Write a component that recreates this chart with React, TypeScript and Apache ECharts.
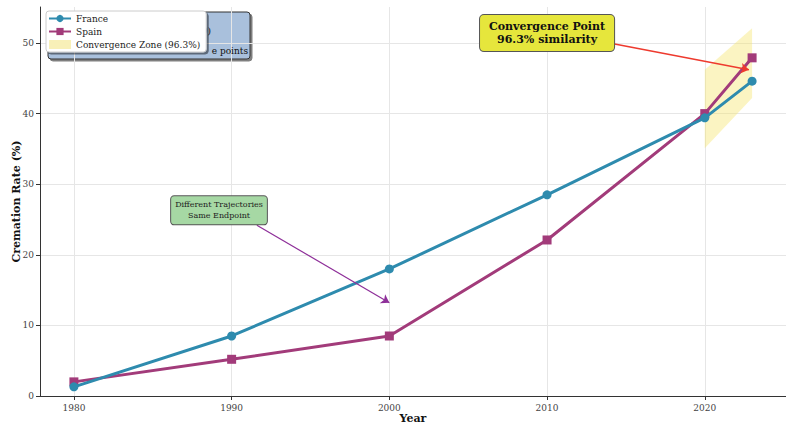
import React, { useEffect, useRef } from "react";
import * as echarts from "echarts";

const years = [1980, 1990, 2000, 2010, 2020, 2023];
const france = [1.3, 8.5, 18.0, 28.5, 39.4, 44.6];
const spain = [2.0, 5.2, 8.5, 22.1, 40.0, 47.9];
const zoneYears = [2020, 2023];
const zoneLower = [35.1, 42.2];
const zoneUpper = [46.2, 52.1];
const xTicks = [1980, 1990, 2000, 2010, 2020];
const yTicks = [0, 10, 20, 30, 40, 50];

const FONT = "'DejaVu Serif', serif";

export default function App() {
  const ref = useRef<HTMLDivElement>(null);
  useEffect(() => {
    document.body.style.margin = "0";
    if (!ref.current) return;
    const chart = echarts.init(ref.current, undefined, { renderer: "svg" });
    const zoneData = zoneYears.map((y, i) => [y, zoneLower[i], zoneUpper[i]]);
    chart.setOption({
      animation: false,
      textStyle: { fontFamily: FONT },
      grid: { left: 40, right: 0, top: 7, bottom: 31, containLabel: false, outerBoundsMode: "none" },
      legend: {
        orient: "vertical",
        left: 46,
        top: 11,
        padding: [3, 6, 3, 2],
        itemWidth: 22,
        itemHeight: 9,
        itemGap: 4,
        backgroundColor: "#ffffff",
        borderColor: "#cccccc",
        borderWidth: 1,
        borderRadius: 3,
        shadowColor: "rgba(0,0,0,0.45)",
        shadowOffsetX: 2,
        shadowOffsetY: 2,
        shadowBlur: 0,
        textStyle: { fontFamily: FONT, fontSize: 9, color: "#222" },
        data: [
          { name: "France" },
          { name: "Spain" },
          { name: "Convergence Zone (96.3%)", icon: "rect", itemStyle: { color: "#f8f0b8" } },
        ],
      },
      graphic: [
        {
          type: "rect",
          z: 0,
          shape: { x: 48, y: 12, width: 202, height: 47, r: 3 },
          style: { fill: "#a9c0dc", stroke: "#333", lineWidth: 1, shadowColor: "rgba(0,0,0,0.5)", shadowOffsetX: 2, shadowOffsetY: 2 },
        },
        {
          type: "text",
          z: 1,
          style: { x: 211, y: 31, text: "0)", align: "right", verticalAlign: "middle", font: "9px 'DejaVu Serif'", fill: "#111" },
        },
        {
          type: "text",
          z: 1,
          style: { x: 248, y: 51, text: "e points", align: "right", verticalAlign: "middle", font: "9px 'DejaVu Serif'", fill: "#111" },
        },
      ],
      xAxis: {
        type: "value",
        min: 1977.85,
        max: 2025.15,
        axisLine: { show: true, onZero: false, lineStyle: { color: "#333", width: 1 } },
        axisTick: { show: true, length: 4, customValues: xTicks, lineStyle: { color: "#333" } },
        axisLabel: { customValues: xTicks, formatter: (v: number) => String(v), fontSize: 9, color: "#444", fontFamily: FONT, margin: 7 },
        splitLine: { show: true, lineStyle: { color: "#e6e6e6", width: 1 } },
        name: "Year",
        nameLocation: "middle",
        nameGap: 17,
        nameMoveOverlap: false,
        nameTextStyle: { fontFamily: FONT, fontWeight: "bold", fontSize: 11, color: "#111" },
      },
      yAxis: {
        type: "value",
        min: 0,
        max: 55.1,
        axisLine: { show: true, lineStyle: { color: "#333", width: 1 } },
        axisTick: { show: true, length: 4, customValues: yTicks, lineStyle: { color: "#333" } },
        axisLabel: { customValues: yTicks, fontSize: 9, color: "#444", fontFamily: FONT, margin: 6 },
        splitLine: { show: true, lineStyle: { color: "#e6e6e6", width: 1 } },
        name: "Cremation Rate (%)",
        nameLocation: "middle",
        nameGap: 18,
        nameMoveOverlap: false,
        nameTextStyle: { fontFamily: FONT, fontWeight: "bold", fontSize: 11, color: "#111" },
      },
      series: [
        {
          type: "custom",
          name: "Convergence Zone (96.3%)",
          z: 1,
          itemStyle: { color: "#f8f0b8" },
          encode: { x: 0, y: [1, 2] },
          data: zoneData,
          renderItem: (params: any, api: any) => {
            if (params.dataIndex !== 0) return { type: "group", children: [] };
            const top = zoneData.map((d) => api.coord([d[0], d[2]]));
            const bot = zoneData.map((d) => api.coord([d[0], d[1]])).reverse();
            return {
              type: "polygon",
              shape: { points: top.concat(bot) },
              style: { fill: "rgba(245,228,110,0.42)", stroke: "none" },
            };
          },
        },
        {
          type: "line",
          name: "France",
          z: 3,
          data: years.map((y, i) => [y, france[i]]),
          symbol: "circle",
          symbolSize: 9,
          lineStyle: { color: "#2E8BAE", width: 3 },
          itemStyle: { color: "#2E8BAE" },
          markLine: {
            silent: true,
            symbol: ["none", "arrow"],
            symbolSize: 8,
            label: { show: false },
            data: [
              [
                { coord: [2014.2, 49.9], lineStyle: { color: "#ee3a2e", width: 1.6, type: "solid" } },
                { coord: [2022.8, 46.2] },
              ],
              [
                { coord: [1991.6, 24.2], lineStyle: { color: "#8e2f99", width: 1.2, type: "solid" } },
                { coord: [2000.0, 13.2] },
              ],
            ],
          },
          markPoint: {
            silent: true,
            symbol: "rect",
            symbolSize: 0,
            data: [
              {
                coord: [2010, 51.4],
                label: {
                  show: true,
                  position: "inside",
                  formatter: "Convergence Point\n96.3% similarity",
                  fontFamily: FONT,
                  fontWeight: "bold",
                  fontSize: 11,
                  lineHeight: 13,
                  color: "#111",
                  backgroundColor: "#e6e63c",
                  borderColor: "#555",
                  borderWidth: 1,
                  borderRadius: 4,
                  padding: [5, 9, 5, 9],
                },
              },
              {
                coord: [1989.2, 26.3],
                label: {
                  show: true,
                  position: "inside",
                  formatter: "Different Trajectories\nSame Endpoint",
                  fontFamily: FONT,
                  fontSize: 8,
                  lineHeight: 11,
                  color: "#222",
                  backgroundColor: "#a6d8a4",
                  borderColor: "#555",
                  borderWidth: 1,
                  borderRadius: 3,
                  padding: [3, 4, 3, 4],
                },
              },
            ],
          },
        },
        {
          type: "line",
          name: "Spain",
          z: 2,
          data: years.map((y, i) => [y, spain[i]]),
          symbol: "rect",
          symbolSize: 9,
          lineStyle: { color: "#A23B7A", width: 3 },
          itemStyle: { color: "#A23B7A" },
        },
      ],
    });
    return () => chart.dispose();
  }, []);
  return <div ref={ref} style={{ width: 786, height: 427 }} />;
}
